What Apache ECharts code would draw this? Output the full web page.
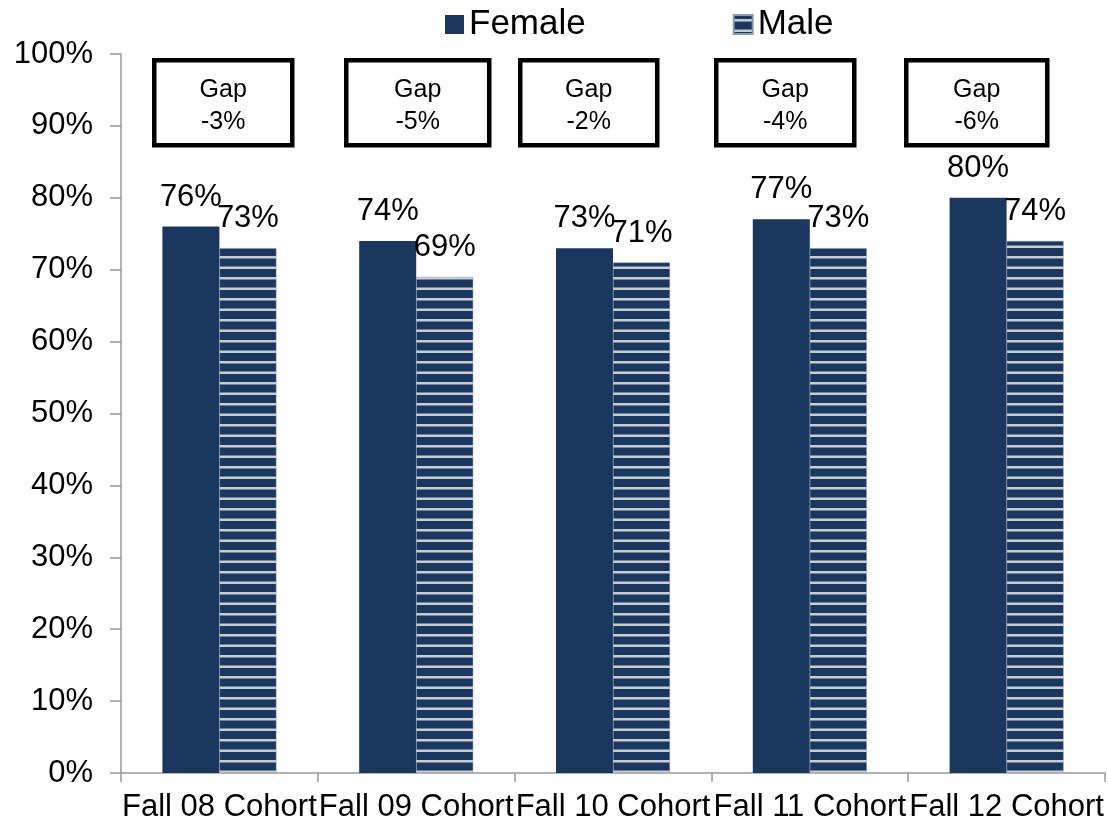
<!DOCTYPE html>
<html>
<head>
<meta charset="utf-8">
<script src="https://cdn.jsdelivr.net/npm/echarts@6/dist/echarts.min.js"></script>
<style>html,body{margin:0;padding:0;background:#fff}#c{width:1108px;height:827px}</style>
</head>
<body>
<div id="c"></div>
<script>
const categories = ["Fall 08 Cohort","Fall 09 Cohort","Fall 10 Cohort","Fall 11 Cohort","Fall 12 Cohort"];
const female = [76, 74, 73, 77, 80];
const male = [73, 69, 71, 73, 74];
const yTicks = [0,10,20,30,40,50,60,70,80,90,100];
const gapBoxX = [152, 344, 518, 714, 904];
const gapBoxW = [138, 143, 137, 138, 141];

const NAVY = '#1a3760';
const FONT = '"Liberation Sans", Arial, sans-serif';

const pc = document.createElement('canvas');
pc.width = 8; pc.height = 21;
const g = pc.getContext('2d');
g.fillStyle = NAVY; g.fillRect(0,0,8,21);
g.fillStyle = '#c9cdd2';
g.fillRect(0,4,8,2.5);
g.fillRect(0,14.5,8,2.5);

const chart = echarts.init(document.getElementById('c'), null, {renderer:'canvas'});
const graphics = [];
for (let i = 0; i < categories.length; i++) {
  const gap = male[i] - female[i];
  graphics.push({
    type: 'group', left: gapBoxX[i], top: 58,
    children: [
      {type:'rect', shape:{x:0,y:0,width:gapBoxW[i],height:85}, style:{fill:'#fff', stroke:'#000', lineWidth:4.5}},
      {type:'text', style:{text:'Gap\n' + gap + '%', x:gapBoxW[i]/2, y:46, align:'center', verticalAlign:'middle', font:'25px ' + FONT, fill:'#000', lineHeight:32}}
    ]
  });
}

chart.setOption({
  animation: false,
  textStyle: {fontFamily: FONT},
  legend: {
    top: 2, left: 440, itemWidth: 19, itemHeight: 19, itemGap: 147, icon: 'rect',
    textStyle: {fontSize: 35, color: '#000', fontFamily: FONT, padding: [0,0,0,0]},
    data: ['Female', 'Male']
  },
  grid: {left: 121, right: 3, top: 54, bottom: 54, containLabel: false},
  xAxis: {
    type: 'category', data: categories,
    axisLine: {lineStyle: {color: '#999', width: 1.5}},
    axisTick: {show: true, length: 9, lineStyle: {color: '#999', width: 1.5}},
    axisLabel: {fontSize: 31, color: '#000', margin: 19, fontFamily: FONT, interval: 0}
  },
  yAxis: {
    type: 'value', min: 0, max: 100, interval: 10,
    axisLine: {show: true, lineStyle: {color: '#999', width: 1.5}},
    axisTick: {show: true, length: 11, lineStyle: {color: '#999', width: 1.5}},
    splitLine: {show: false},
    axisLabel: {fontSize: 31, color: '#000', margin: 28, fontFamily: FONT, formatter: v => yTicks.includes(v) ? v + '%' : ''}
  },
  series: [
    {name: 'Female', type: 'bar', data: female, barWidth: 57, barGap: '0%',
     itemStyle: {color: NAVY},
     label: {show: true, position: 'top', distance: 14, fontSize: 31, color: '#000', fontFamily: FONT, formatter: p => p.value + '%'}},
    {name: 'Male', type: 'bar', data: male, barWidth: 57, barGap: '0%',
     itemStyle: {color: {image: pc, repeat: 'repeat'}, borderColor: '#8a9ab0', borderWidth: 0.5},
     label: {show: true, position: 'top', distance: 14, fontSize: 31, color: '#000', fontFamily: FONT, formatter: p => p.value + '%'}}
  ],
  graphic: graphics
});
</script>
</body>
</html>
